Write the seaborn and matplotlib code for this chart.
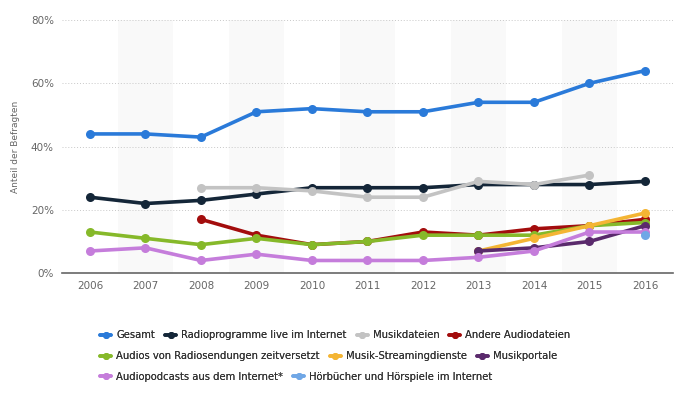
import numpy as np
import pandas as pd
import matplotlib.pyplot as plt
import seaborn as sns

# values (share of respondents, %)
years = list(range(2006, 2017))
gesamt = [44, 44, 43, 51, 52, 51, 51, 54, 54, 60, 64]
radio_live = [24, 22, 23, 25, 27, 27, 27, 28, 28, 28, 29]
musikdateien = [None, None, 27, 27, 26, 24, 24, 29, 28, 31, None]
andere_audio = [None, None, 17, 12, 9, 10, 13, 12, 14, 15, 17]
zeitversetzt = [13, 11, 9, 11, 9, 10, 12, 12, 12, 15, 16]
streaming = [None, None, None, None, None, None, None, 7, 11, 15, 19]
musikportale = [None, None, None, None, None, None, None, 7, 8, 10, 15]
podcasts = [7, 8, 4, 6, 4, 4, 4, 5, 7, 13, 13]
hoerbuecher = [None, None, None, None, None, None, None, None, None, None, 12]

series = {
    "Gesamt": gesamt,
    "Radioprogramme live im Internet": radio_live,
    "Musikdateien": musikdateien,
    "Andere Audiodateien": andere_audio,
    "Audios von Radiosendungen zeitversetzt": zeitversetzt,
    "Musik-Streamingdienste": streaming,
    "Musikportale": musikportale,
    "Audiopodcasts aus dem Internet*": podcasts,
    "Hörbücher und Hörspiele im Internet": hoerbuecher,
}
colors = ["#2a7ad9", "#142638", "#c3c3c3", "#a30d0d", "#86b92a",
          "#f4b534", "#5a2a6c", "#c57ddb", "#70a7e6"]

rows = []
for name, vals in series.items():
    for y, v in zip(years, vals):
        if v is not None:
            rows.append({"Jahr": y, "Wert": v, "Serie": name})
df = pd.DataFrame(rows)

sns.set_style("white")
fig = plt.figure(figsize=(6.83, 3.93), dpi=100)
ax = fig.add_axes([0.091, 0.305, 0.894, 0.644])

# alternating background bands
for y in years:
    if y % 2 == 1:
        ax.axvspan(y - 0.5, y + 0.5, color="#f9f9f9", zorder=0, lw=0)

palette = dict(zip(series.keys(), colors))
sns.lineplot(data=df, x="Jahr", y="Wert", hue="Serie", palette=palette,
             hue_order=list(series.keys()), marker="o", markersize=6.5,
             markeredgewidth=0, linewidth=2.6, legend=False, ax=ax, zorder=3)

ax.set_xlim(2005.5, 2016.5)
ax.set_ylim(0, 80)
ax.set_xticks(years)
ax.set_yticks([0, 20, 40, 60, 80])
ax.set_yticklabels([f"{v}%" for v in [0, 20, 40, 60, 80]])
ax.grid(axis="y", linestyle=(0, (1, 2)), color="#c8c8c8", linewidth=0.7)
ax.set_axisbelow(True)
for s in ["top", "right", "left"]:
    ax.spines[s].set_visible(False)
ax.spines["bottom"].set_color("#666666")
ax.spines["bottom"].set_linewidth(1.2)
ax.tick_params(axis="both", length=0, labelsize=7.5, colors="#666666", pad=6)
ax.set_xlabel("")
ax.set_ylabel("Anteil der Befragten", fontsize=6.5, color="#666666", labelpad=8)

# legend in three rows
names = list(series.keys())
row_items = [names[0:4], names[4:7], names[7:9]]
row_y = [0.147, 0.094, 0.041]
for items, yy in zip(row_items, row_y):
    handles = [plt.Line2D([0], [0], color=palette[n], lw=2.6, marker="o",
                          markersize=5, markeredgewidth=0) for n in items]
    leg = fig.legend(handles, items, loc="center left", bbox_to_anchor=(0.147, yy),
                     ncol=len(items), frameon=False, fontsize=7.2,
                     handlelength=1.1, handletextpad=0.5, columnspacing=1.0,
                     labelcolor="#333333", borderaxespad=0, borderpad=0)
    fig.add_artist(leg)

fig.savefig("out.png", dpi=100)
